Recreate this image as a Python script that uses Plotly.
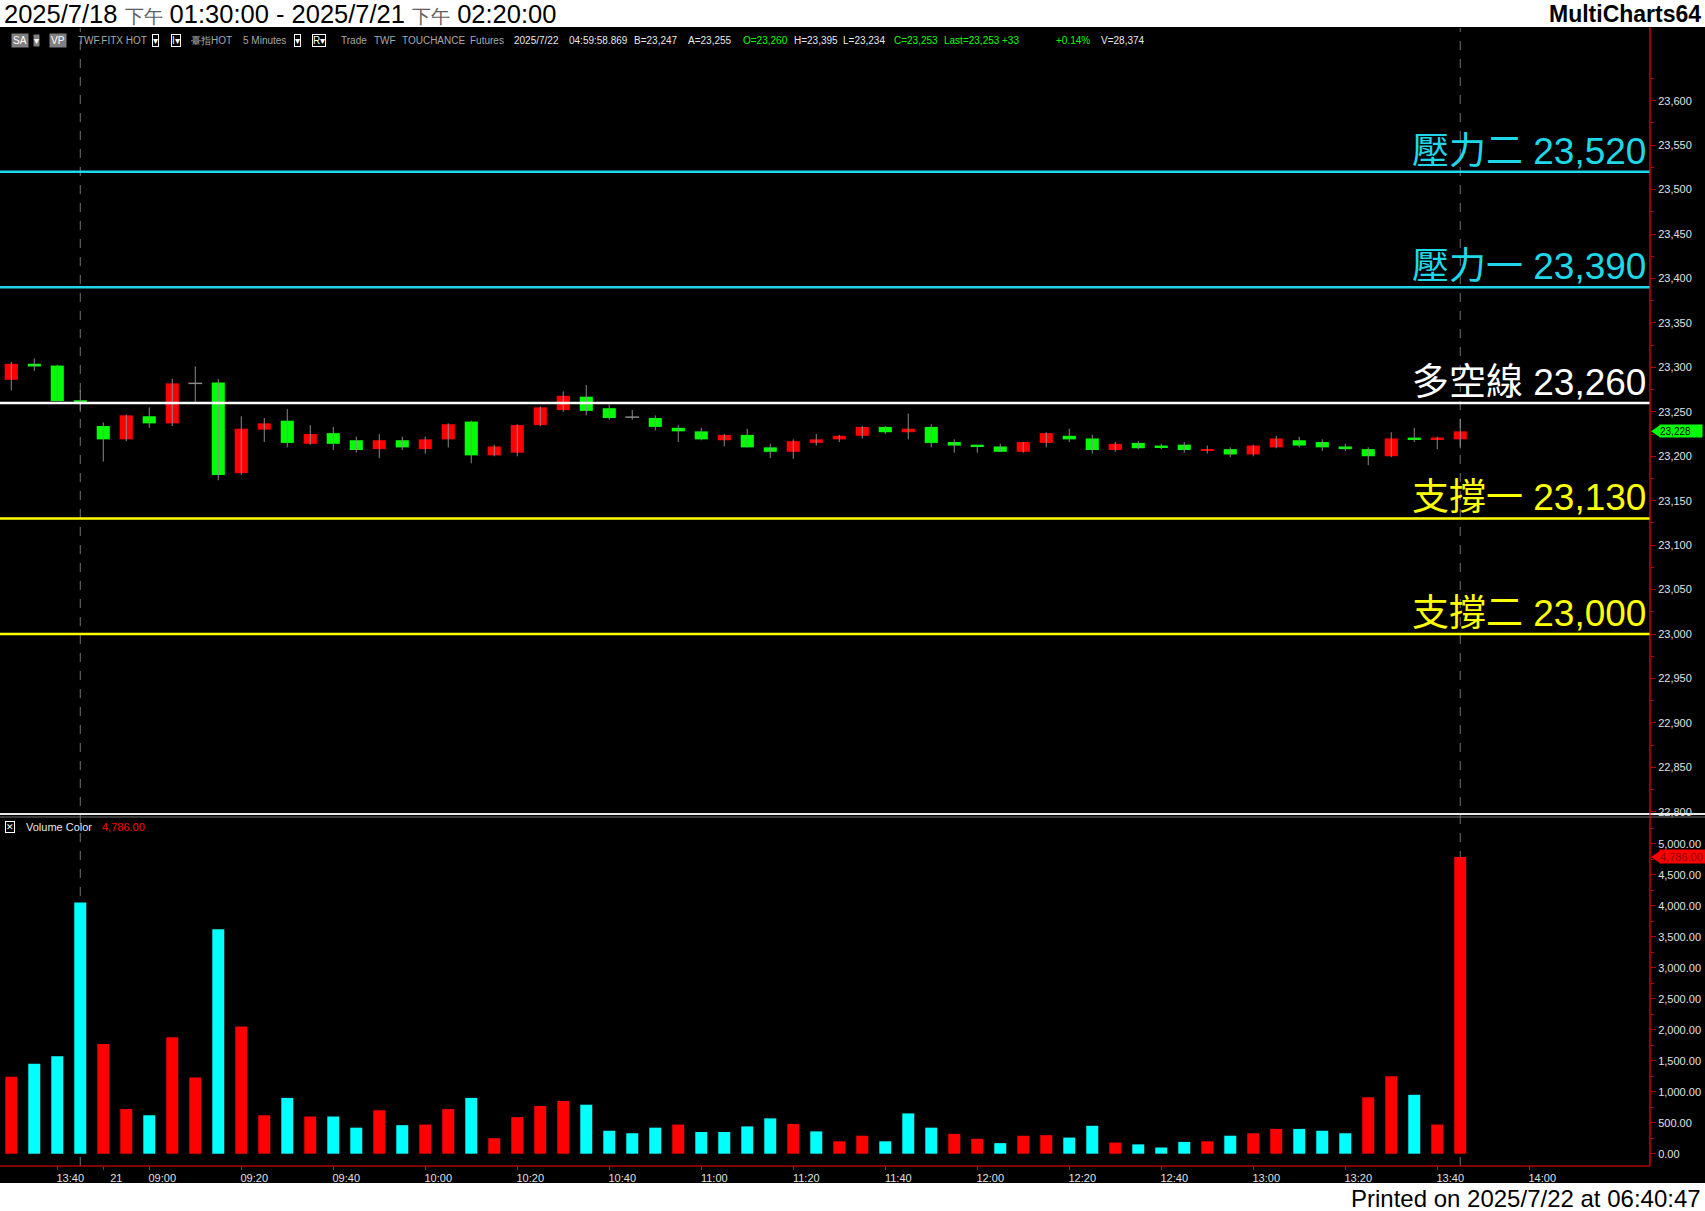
import plotly.graph_objects as go

W, H = 1705, 1211

# ---------------- data ----------------
bar_times = ["7/18 13:30", "7/18 13:35", "7/18 13:40", "7/18 13:45"] + [
    "7/21 %02d:%02d" % divmod(m, 60) for m in range(8 * 60 + 50, 14 * 60 + 25, 5)
]  # 7/21 08:50 ... 14:20 (the last ones are empty slots on the axis)

opens = [23286, 23304, 23302, 23263, 23234, 23219, 23245, 23237, 23282, 23283,
         23181, 23230, 23240, 23214, 23226, 23218, 23208, 23218, 23208, 23219,
         23239, 23201, 23204, 23235, 23252, 23267, 23254, 23244, 23243, 23232,
         23228, 23218, 23224, 23210, 23205, 23215, 23219, 23223, 23233, 23227,
         23233, 23216, 23212, 23211, 23205, 23215, 23223, 23220, 23207, 23215,
         23211, 23213, 23206, 23208, 23202, 23210, 23218, 23216, 23211, 23208,
         23200, 23220, 23219, 23219]
highs = [23306, 23310, 23303, 23274, 23238, 23247, 23255, 23287, 23301, 23287,
         23245, 23243, 23253, 23235, 23233, 23222, 23225, 23222, 23222, 23237,
         23240, 23213, 23236, 23256, 23273, 23280, 23258, 23252, 23246, 23235,
         23232, 23225, 23231, 23214, 23219, 23225, 23224, 23234, 23234, 23248,
         23236, 23219, 23213, 23214, 23216, 23227, 23231, 23224, 23216, 23217,
         23214, 23216, 23212, 23210, 23213, 23223, 23222, 23219, 23214, 23210,
         23227, 23232, 23222, 23242]
lows = [23274, 23296, 23262, 23250, 23194, 23217, 23232, 23234, 23261, 23173,
        23179, 23216, 23210, 23213, 23207, 23204, 23198, 23207, 23203, 23210,
        23192, 23200, 23200, 23234, 23250, 23246, 23241, 23241, 23229, 23216,
        23218, 23211, 23210, 23198, 23197, 23212, 23216, 23220, 23225, 23219,
        23210, 23204, 23204, 23205, 23204, 23210, 23216, 23203, 23205, 23208,
        23208, 23204, 23203, 23199, 23200, 23209, 23210, 23206, 23206, 23190,
        23199, 23216, 23208, 23209]
closes = [23304, 23301, 23262, 23260, 23219, 23246, 23237, 23282, 23282, 23179,
          23231, 23237, 23215, 23225, 23214, 23207, 23218, 23210, 23219, 23236,
          23201, 23211, 23235, 23255, 23268, 23251, 23243, 23244, 23233, 23228,
          23219, 23224, 23210, 23205, 23217, 23219, 23223, 23233, 23227, 23231,
          23215, 23212, 23211, 23205, 23216, 23226, 23219, 23207, 23214, 23209,
          23210, 23207, 23208, 23202, 23212, 23220, 23212, 23210, 23208, 23200,
          23220, 23219, 23221, 23228]

volumes = [1240, 1450, 1570, 4050, 1770, 720, 620, 1880, 1230, 3620,
           2050, 620, 900, 600, 600, 420, 700, 460, 470, 720,
           900, 250, 590, 770, 850, 790, 370, 330, 420, 470,
           350, 350, 440, 570, 480, 360, 200, 290, 200, 650,
           420, 320, 240, 170, 290, 300, 260, 450, 180, 150,
           100, 190, 200, 290, 330, 400, 400, 370, 330, 910,
           1250, 950, 470, 4786]
volume_up = "RCCCRRCRRCRRCRCCRCRRCRRRRCCCCRCCCCRCRRCCCRRCRRCCRCCCRCRRCCCRRCRR"

levels = [23520, 23390, 23260, 23130, 23000]
level_names = ["壓力二", "壓力一", "多空線", "支撐一", "支撐二"]
level_colors = ["#1ED8EA", "#1ED8EA", "#FFFFFF", "#FFFF00", "#FFFF00"]

tick_keys = ["7/18 13:40", "7/21 08:50", "7/21 09:00", "7/21 09:20", "7/21 09:40",
             "7/21 10:00", "7/21 10:20", "7/21 10:40", "7/21 11:00", "7/21 11:20",
             "7/21 11:40", "7/21 12:00", "7/21 12:20", "7/21 12:40", "7/21 13:00",
             "7/21 13:20", "7/21 13:40", "7/21 14:00"]
tick_text = ["13:40", "21", "09:00", "09:20", "09:40", "10:00", "10:20", "10:40",
             "11:00", "11:20", "11:40", "12:00", "12:20", "12:40", "13:00", "13:20",
             "13:40", "14:00"]
session_breaks = ["7/18 13:45", "7/21 13:45"]

last_price = 23228
last_volume = 4786

# ---------------- helpers ----------------
def px(x):
    return x / W

def py(y):
    return 1 - y / H

def price_at(y):
    return 23000 + (634 - y) / 0.8888

def vol_at(y):
    return (1153.7 - y) / 0.062

n = len(opens)
idx = list(range(1, n + 1))
pos = {t: i + 1 for i, t in enumerate(bar_times)}

RED, GREEN, CYAN, GRAY = "#FF0000", "#00FF00", "#00FFFF", "#8A8A8A"
NARROW = "Liberation Sans Narrow, Arial Narrow, Liberation Sans, sans-serif"

fig = go.Figure()

# wicks
wx, wy = [], []
for i, h, l in zip(idx, highs, lows):
    wx += [i, i, None]
    wy += [l, h, None]
fig.add_trace(go.Scatter(x=wx, y=wy, mode="lines", line=dict(color=GRAY, width=1),
                         hoverinfo="skip", showlegend=False, xaxis="x", yaxis="y"))

# doji crosses
dx, dy = [], []
for i, o, c in zip(idx, opens, closes):
    if o == c:
        dx += [i - 0.3, i + 0.3, None]
        dy += [o, o, None]
fig.add_trace(go.Scatter(x=dx, y=dy, mode="lines", line=dict(color=GRAY, width=1.5),
                         hoverinfo="skip", showlegend=False, xaxis="x", yaxis="y"))

# bodies
bx, bbase, bh, bc = [], [], [], []
for i, o, c in zip(idx, opens, closes):
    if o == c:
        continue
    lo, hi = min(o, c), max(o, c)
    hgt = max(hi - lo, 2)
    bx.append(i)
    bbase.append(lo)
    bh.append(hgt)
    bc.append(RED if c > o else GREEN)
fig.add_trace(go.Bar(x=bx, y=bh, base=bbase, width=0.57, marker=dict(color=bc, line=dict(width=0)),
                     hoverinfo="skip", showlegend=False, xaxis="x", yaxis="y"))

# volume
vcol = [RED if f == "R" else CYAN for f in volume_up]
fig.add_trace(go.Bar(x=idx, y=volumes, width=0.52, marker=dict(color=vcol, line=dict(width=0)),
                     hoverinfo="skip", showlegend=False, xaxis="x", yaxis="y2"))

PLOT_R = 1650
shapes = []
annotations = []

# black chart band
shapes.append(dict(type="rect", xref="paper", yref="paper", x0=0, x1=1, y0=py(1183), y1=py(27),
                   fillcolor="#000000", line=dict(width=0), layer="below"))

# level lines + labels
for lv, nm, col in zip(levels, level_names, level_colors):
    shapes.append(dict(type="line", xref="paper", yref="y", x0=0, x1=px(PLOT_R), y0=lv, y1=lv,
                       line=dict(color=col, width=2.5)))
    annotations.append(dict(xref="paper", yref="y", x=px(PLOT_R - 2), y=lv, xanchor="right",
                            yanchor="bottom", yshift=-2, showarrow=False,
                            text="%s %s" % (nm, format(lv, ",")),
                            font=dict(family="Liberation Sans, Noto Sans CJK TC", size=37, color=col)))

# session-break dashed lines
for key in session_breaks:
    shapes.append(dict(type="line", xref="x", yref="paper", x0=pos[key], x1=pos[key],
                       y0=py(1166), y1=py(28), line=dict(color="#707070", width=1, dash="dash"),
                       layer="below"))

# pane separator
shapes.append(dict(type="line", xref="paper", yref="paper", x0=0, x1=1, y0=py(814), y1=py(814),
                   line=dict(color="#E8E8E8", width=2)))
shapes.append(dict(type="line", xref="paper", yref="paper", x0=0, x1=1, y0=py(817), y1=py(817),
                   line=dict(color="#707070", width=1)))
# right axis red line and bottom line
shapes.append(dict(type="line", xref="paper", yref="paper", x0=px(PLOT_R), x1=px(PLOT_R),
                   y0=py(1166), y1=py(27), line=dict(color="#FF0000", width=1.2)))
shapes.append(dict(type="line", xref="paper", yref="paper", x0=0, x1=px(PLOT_R),
                   y0=py(1166), y1=py(1166), line=dict(color="#FF0000", width=1.2)))

# last price tag
tag_h = 6 / 0.8888
shapes.append(dict(type="path", xref="paper", yref="y",
                   path="M %f,%f L %f,%f L %f,%f Z" % (px(1651), last_price, px(1660), last_price + tag_h,
                                                       px(1660), last_price - tag_h),
                   fillcolor="#00FF00", line=dict(width=0)))
annotations.append(dict(xref="paper", yref="y", x=px(1659), y=last_price, xanchor="left", yanchor="middle",
                        showarrow=False, text=format(last_price, ","), bgcolor="#00FF00", width=42,
                        height=12, borderpad=0, align="left",
                        font=dict(family="Liberation Sans", size=10, color="#000000")))
vtag_h = 6 / 0.062
shapes.append(dict(type="path", xref="paper", yref="y2",
                   path="M %f,%f L %f,%f L %f,%f Z" % (px(1651), last_volume, px(1660), last_volume + vtag_h,
                                                       px(1660), last_volume - vtag_h),
                   fillcolor="#FF0000", line=dict(width=0)))
annotations.append(dict(xref="paper", yref="y2", x=px(1659), y=last_volume, xanchor="left", yanchor="middle",
                        showarrow=False, text="{:,.2f}".format(last_volume), bgcolor="#FF0000", width=45,
                        height=13, borderpad=0, align="left",
                        font=dict(family="Liberation Sans", size=11, color="#8B0000")))

# header / footer
annotations.append(dict(xref="paper", yref="paper", x=px(2), y=py(14), xanchor="left", yanchor="middle",
                        showarrow=False,
                        text="2025/7/18 <span style='font-size:19px;color:#606060'>下午</span> 01:30:00 - "
                             "2025/7/21 <span style='font-size:19px;color:#606060'>下午</span> 02:20:00",
                        font=dict(family=NARROW, size=25.5, color="#000000")))
annotations.append(dict(xref="paper", yref="paper", x=px(1703), y=py(14), xanchor="right", yanchor="middle",
                        showarrow=False, text="<b>MultiCharts64</b>",
                        font=dict(family="Liberation Sans", size=23, color="#000000")))
annotations.append(dict(xref="paper", yref="paper", x=px(1703), y=py(1198), xanchor="right", yanchor="middle",
                        showarrow=False, text="Printed on 2025/7/22 at 06:40:47",
                        font=dict(family=NARROW, size=24, color="#000000")))

# info bar
IY = py(41)
def info(x, text, color="#C8C8C8", **kw):
    d = dict(xref="paper", yref="paper", x=px(x), y=IY, xanchor="left", yanchor="middle",
             showarrow=False, text=text, font=dict(family=NARROW, size=10, color=color))
    d.update(kw)
    annotations.append(d)

info(11, "SA", "#FFFFFF", bgcolor="#808080", borderpad=1)
info(33, "▾", "#FFFFFF", bgcolor="#808080", borderpad=0)
info(49, "VP", "#FFFFFF", bgcolor="#808080", borderpad=1)
info(76, "TWF.FITX HOT", "#A8A8A8")
info(152, "▾", "#FFFFFF", bordercolor="#FFFFFF", borderwidth=1, borderpad=0)
info(171, "I▾", "#FFFFFF", bordercolor="#FFFFFF", borderwidth=1, borderpad=0)
info(189, "臺指HOT", "#A8A8A8")
info(241, "5 Minutes", "#A8A8A8")
info(294, "▾", "#FFFFFF", bordercolor="#FFFFFF", borderwidth=1, borderpad=0)
info(312, "R▾", "#FFFFFF", bordercolor="#FFFFFF", borderwidth=1, borderpad=0)
info(339, "Trade", "#A8A8A8")
info(372, "TWF", "#A8A8A8")
info(400, "TOUCHANCE", "#A8A8A8")
info(468, "Futures", "#A8A8A8")
info(512, "2025/7/22", "#E8E8E8")
info(567, "04:59:58.869", "#E8E8E8")
info(632, "B=23,247", "#E8E8E8")
info(686, "A=23,255", "#E8E8E8")
info(741, "O=23,260", "#00FF00")
info(792, "H=23,395", "#E8E8E8")
info(841, "L=23,234", "#E8E8E8")
info(892, "C=23,253", "#00FF00")
info(942, "Last=23,253", "#00FF00")
info(1000, "+33", "#00FF00")
info(1054, "+0.14%", "#00FF00")
info(1099, "V=28,374", "#E8E8E8")

# volume legend
VY = py(827)
annotations.append(dict(xref="paper", yref="paper", x=px(5), y=VY, xanchor="left", yanchor="middle",
                        showarrow=False, text="✕", bordercolor="#FFFFFF", borderwidth=1, borderpad=0,
                        font=dict(family="DejaVu Sans", size=9, color="#FFFFFF")))
annotations.append(dict(xref="paper", yref="paper", x=px(24), y=VY, xanchor="left", yanchor="middle",
                        showarrow=False, text="Volume Color",
                        font=dict(family="Liberation Sans", size=11, color="#E8E8E8")))
annotations.append(dict(xref="paper", yref="paper", x=px(100), y=VY, xanchor="left", yanchor="middle",
                        showarrow=False, text="{:,.2f}".format(last_volume),
                        font=dict(family="Liberation Sans", size=11, color="#FF0000")))

fig.update_layout(
    width=W, height=H, margin=dict(l=0, r=0, t=0, b=0),
    paper_bgcolor="#FFFFFF", plot_bgcolor="#000000", showlegend=False, barmode="overlay",
    shapes=shapes, annotations=annotations,
    xaxis=dict(domain=[0, px(PLOT_R)], range=[0.51, 72.25], anchor="y2",
               tickmode="array", tickvals=[pos[k] for k in tick_keys], ticktext=tick_text,
               ticks="outside", ticklen=3, tickcolor="#FF0000", showgrid=False, zeroline=False,
               showline=False, ticklabelshift=13, ticklabelstandoff=-1, automargin=False,
               tickfont=dict(family=NARROW, size=11, color="#E0E0E0")),
    yaxis=dict(domain=[py(813), py(58)], range=[price_at(813), price_at(58)], side="right",
               anchor="x", dtick=50, tick0=23000, tickformat=",d", showgrid=False, zeroline=False,
               ticks="outside", ticklen=5, tickcolor="#B00000", automargin=False,
               minor=dict(dtick=25, ticks="outside", ticklen=3, tickcolor="#B00000"),
               tickfont=dict(family="Liberation Sans", size=11, color="#E0E0E0")),
    yaxis2=dict(domain=[py(1166), py(818)], range=[vol_at(1166), vol_at(818)], side="right",
                anchor="x", dtick=500, tick0=0, tickformat=",.2f", showgrid=False, zeroline=False,
                ticks="outside", ticklen=5, tickcolor="#B00000", automargin=False,
                minor=dict(dtick=250, ticks="outside", ticklen=3, tickcolor="#B00000"),
                tickfont=dict(family="Liberation Sans", size=11, color="#E0E0E0")),
)

fig.write_html("out.html", config={"displayModeBar": False},
               post_script="document.body.style.margin='0';document.body.style.overflow='hidden';")
